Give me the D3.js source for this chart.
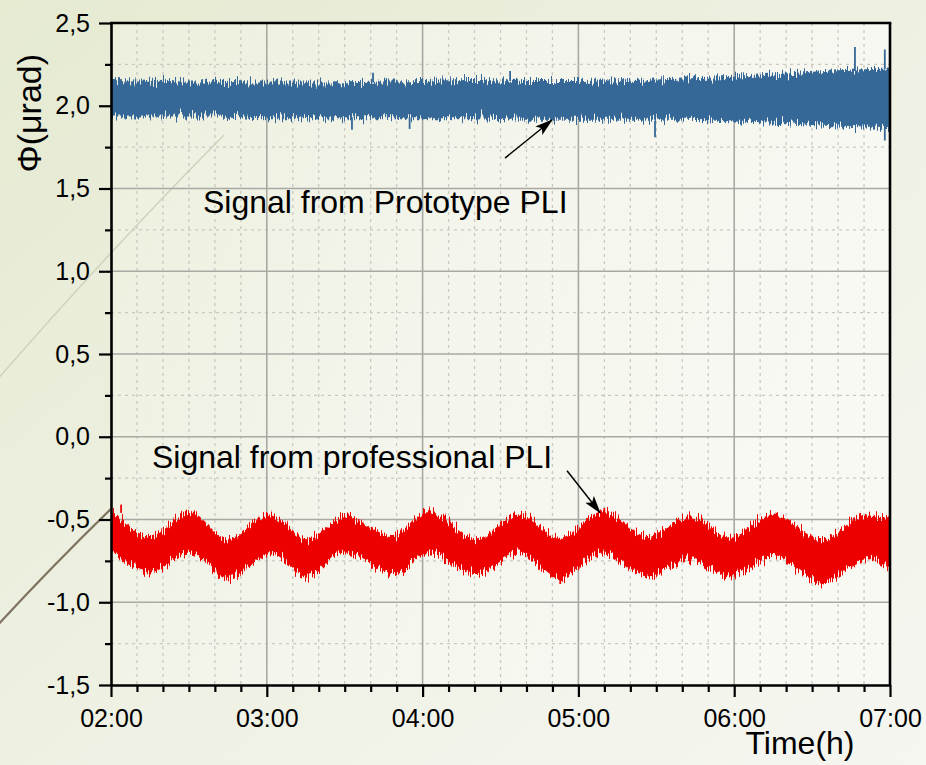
<!DOCTYPE html>
<html>
<head>
<meta charset="utf-8">
<script src="https://cdn.jsdelivr.net/npm/d3@7"></script>
<style>
  html, body { margin: 0; padding: 0; }
  body { width: 926px; height: 765px; overflow: hidden; }
  svg text { font-family: "Liberation Sans", Arial, sans-serif; fill: #000; }
</style>
</head>
<body>
<svg id="chart" width="926" height="765"></svg>
<script>
// time is in minutes after 02:00, values in µrad
const blueTime = [0, 20, 40, 60, 80, 100, 120, 140, 160, 180, 200, 220, 240, 260, 280, 300];
const blueTop = [2.155, 2.15, 2.145, 2.14, 2.14, 2.145, 2.15, 2.155, 2.15, 2.15, 2.155, 2.165, 2.175, 2.195, 2.215, 2.225];
const blueBottom = [1.935, 1.935, 1.935, 1.925, 1.925, 1.925, 1.925, 1.925, 1.915, 1.915, 1.915, 1.915, 1.905, 1.895, 1.875, 1.865];

const redTime = [0, 15.0, 30.4, 44.7, 61.2, 75.5, 90.1, 108.6, 122.1, 141.0, 157.1, 172.9, 189.5, 206.4, 223.0, 238.4, 254.9, 273.8, 291.1, 300];
const redTop = [-0.44, -0.60, -0.46, -0.62, -0.47, -0.62, -0.48, -0.60, -0.45, -0.62, -0.47, -0.61, -0.45, -0.60, -0.48, -0.61, -0.47, -0.62, -0.47, -0.49];
const redBottom = [-0.69, -0.82, -0.70, -0.85, -0.71, -0.84, -0.70, -0.83, -0.71, -0.83, -0.70, -0.86, -0.70, -0.85, -0.74, -0.85, -0.72, -0.88, -0.74, -0.81];

// isolated outliers: [time, base, tip]
const blueSpikes = [[286.5, 2.21, 2.355], [298, 2.22, 2.34], [209.5, 1.91, 1.81], [298, 1.87, 1.79], [92.8, 1.93, 1.855], [115, 1.93, 1.86], [100.9, 2.14, 2.20], [153.7, 2.15, 2.21]];
const redSpikes = [[3.9, -0.46, -0.41], [173, -0.84, -0.89], [274, -0.86, -0.89], [190, -0.47, -0.43]];

const xTickValues = [2, 3, 4, 5, 6, 7];
const xTickLabels = ['02:00', '03:00', '04:00', '05:00', '06:00', '07:00'];
const yTickValues = [-1.5, -1.0, -0.5, 0.0, 0.5, 1.0, 1.5, 2.0, 2.5];

const width = 926;
const height = 765;
const margin = { left: 111, right: 36, top: 23, bottom: 80 };

const svg = d3.select('#chart');
const x = d3.scaleLinear().domain([2, 7]).range([margin.left, width - margin.right]);
const y = d3.scaleLinear().domain([-1.5, 2.5]).range([height - margin.bottom, margin.top]);
const hours = (t) => 2 + t / 60;

const locale = d3.formatLocale({ decimal: ',', thousands: '.', grouping: [3], currency: ['', ''], minus: '-' });
const fmt = locale.format('.1f');

const defs = svg.append('defs');

const bgGrad = defs.append('linearGradient').attr('id', 'bg')
  .attr('x1', '0').attr('y1', '0').attr('x2', '1').attr('y2', '1');
bgGrad.append('stop').attr('offset', '0%').attr('stop-color', '#e5ead1');
bgGrad.append('stop').attr('offset', '55%').attr('stop-color', '#eff1e4');
bgGrad.append('stop').attr('offset', '100%').attr('stop-color', '#f6f6f1');

const plotGrad = defs.append('linearGradient').attr('id', 'plotbg')
  .attr('x1', '0').attr('y1', '0').attr('x2', '1').attr('y2', '0.4');
plotGrad.append('stop').attr('offset', '0%').attr('stop-color', '#ecefdc');
plotGrad.append('stop').attr('offset', '45%').attr('stop-color', '#f3f4ea');
plotGrad.append('stop').attr('offset', '100%').attr('stop-color', '#f9f9f4');

defs.append('clipPath').attr('id', 'plotclip')
  .append('rect')
  .attr('x', x(2)).attr('y', y(2.5))
  .attr('width', x(7) - x(2)).attr('height', y(-1.5) - y(2.5));

// edge roughening so the bands look like dense noisy traces
const jag = defs.append('filter').attr('id', 'jag')
  .attr('x', '0').attr('y', '-80%').attr('width', '100%').attr('height', '260%')
  .attr('color-interpolation-filters', 'sRGB');
jag.append('feTurbulence').attr('type', 'fractalNoise')
  .attr('baseFrequency', '0.85 0.015').attr('numOctaves', 2).attr('seed', 7).attr('result', 'n');
jag.append('feColorMatrix').attr('in', 'n').attr('type', 'matrix')
  .attr('values', '0 0 0 0 0.5  0 1 0 0 0  0 0 0 0 0  0 0 0 0 1').attr('result', 'm');
jag.append('feDisplacementMap').attr('in', 'SourceGraphic').attr('in2', 'm')
  .attr('scale', 22).attr('xChannelSelector', 'R').attr('yChannelSelector', 'G');

const marker = defs.append('marker').attr('id', 'arrowhead')
  .attr('viewBox', '0 -6 18 12').attr('refX', 17).attr('refY', 0)
  .attr('markerWidth', 18).attr('markerHeight', 12)
  .attr('markerUnits', 'userSpaceOnUse').attr('orient', 'auto');
marker.append('path').attr('d', 'M0,-5.5L18,0L0,5.5L4,0Z').attr('fill', '#000');

// page background and decorative slide swooshes
svg.append('rect').attr('width', width).attr('height', height).attr('fill', 'url(#bg)');
svg.append('path')
  .attr('d', 'M-4,627 Q52,566 118,502')
  .attr('fill', 'none').attr('stroke', '#7d735f').attr('stroke-width', 2.2);

svg.append('rect')
  .attr('x', x(2)).attr('y', y(2.5))
  .attr('width', x(7) - x(2)).attr('height', y(-1.5) - y(2.5))
  .attr('fill', 'url(#plotbg)');

svg.append('path')
  .attr('d', 'M-4,381 Q110,250 224,135')
  .attr('fill', 'none').attr('stroke', '#cfcdb8').attr('stroke-width', 1.5).attr('opacity', 0.9);

// grid
const grid = svg.append('g');
const minorX = d3.range(0, 31).map((i) => 2 + i / 6).filter((v, i) => i % 6 !== 0);
const minorY = d3.range(0, 17).map((i) => -1.5 + i * 0.25).filter((v, i) => i % 2 !== 0);

grid.selectAll('.mx').data(minorX).join('line')
  .attr('x1', (d) => x(d)).attr('x2', (d) => x(d))
  .attr('y1', y(2.5)).attr('y2', y(-1.5))
  .attr('stroke', '#c9c9c2').attr('stroke-width', 1.3).attr('stroke-dasharray', '3,4');
grid.selectAll('.my').data(minorY).join('line')
  .attr('x1', x(2)).attr('x2', x(7))
  .attr('y1', (d) => y(d)).attr('y2', (d) => y(d))
  .attr('stroke', '#c9c9c2').attr('stroke-width', 1.3).attr('stroke-dasharray', '3,4');
grid.selectAll('.gx').data(xTickValues.slice(1, -1)).join('line')
  .attr('x1', (d) => x(d)).attr('x2', (d) => x(d))
  .attr('y1', y(2.5)).attr('y2', y(-1.5))
  .attr('stroke', '#a9a9a4').attr('stroke-width', 1.6);
grid.selectAll('.gy').data(yTickValues.slice(1, -1)).join('line')
  .attr('x1', x(2)).attr('x2', x(7))
  .attr('y1', (d) => y(d)).attr('y2', (d) => y(d))
  .attr('stroke', '#a9a9a4').attr('stroke-width', 1.6);

// signal bands
const plot = svg.append('g').attr('clip-path', 'url(#plotclip)');

const band = d3.area()
  .x((d) => x(hours(d.t)))
  .y0((d) => y(d.lo))
  .y1((d) => y(d.hi))
  .curve(d3.curveMonotoneX);

const blueData = blueTime.map((t, i) => ({ t, hi: blueTop[i], lo: blueBottom[i] }));
const redData = redTime.map((t, i) => ({ t, hi: redTop[i], lo: redBottom[i] }));

plot.append('g').attr('filter', 'url(#jag)')
  .append('path').datum(blueData)
  .attr('d', band)
  .attr('fill', '#356797');

plot.append('g').attr('filter', 'url(#jag)')
  .append('path').datum(redData)
  .attr('d', band)
  .attr('fill', '#ee0000');

plot.selectAll('.bs').data(blueSpikes).join('line')
  .attr('x1', (d) => x(hours(d[0]))).attr('x2', (d) => x(hours(d[0])))
  .attr('y1', (d) => y(d[1])).attr('y2', (d) => y(d[2]))
  .attr('stroke', '#356797').attr('stroke-width', 1.8);
plot.selectAll('.rs').data(redSpikes).join('line')
  .attr('x1', (d) => x(hours(d[0]))).attr('x2', (d) => x(hours(d[0])))
  .attr('y1', (d) => y(d[1])).attr('y2', (d) => y(d[2]))
  .attr('stroke', '#ee0000').attr('stroke-width', 1.8);

// axes
const xAxis = svg.append('g')
  .attr('transform', `translate(0,${y(-1.5)})`)
  .call(d3.axisBottom(x).tickValues(xTickValues)
    .tickFormat((d, i) => xTickLabels[i]).tickSize(12).tickSizeOuter(0).tickPadding(12));
svg.append('g')
  .attr('transform', `translate(0,${y(-1.5)})`)
  .call(d3.axisBottom(x).tickValues(minorX).tickFormat('').tickSize(7).tickSizeOuter(0))
  .call((g) => g.select('.domain').remove());

const yAxis = svg.append('g')
  .attr('transform', `translate(${x(2)},0)`)
  .call(d3.axisLeft(y).tickValues(yTickValues).tickFormat(fmt).tickSize(12).tickSizeOuter(0).tickPadding(9));
svg.append('g')
  .attr('transform', `translate(${x(2)},0)`)
  .call(d3.axisLeft(y).tickValues(minorY).tickFormat('').tickSize(6).tickSizeOuter(0))
  .call((g) => g.select('.domain').remove());

svg.selectAll('.tick line').attr('stroke', '#000').attr('stroke-width', 2.2);
svg.selectAll('.domain').attr('stroke', '#000').attr('stroke-width', 2.6);
xAxis.selectAll('text').attr('font-size', 25).attr('fill', '#000');
yAxis.selectAll('text').attr('font-size', 25).attr('fill', '#000');

svg.append('line')
  .attr('x1', x(2) - 1).attr('x2', x(7) + 1.3)
  .attr('y1', y(2.5)).attr('y2', y(2.5))
  .attr('stroke', '#000').attr('stroke-width', 2.6);
svg.append('line')
  .attr('x1', x(7)).attr('x2', x(7))
  .attr('y1', y(2.5)).attr('y2', y(-1.5))
  .attr('stroke', '#000').attr('stroke-width', 2.6);

// titles
svg.append('text')
  .attr('transform', `translate(41,${y(1.955)}) rotate(-90)`)
  .attr('text-anchor', 'middle')
  .attr('font-size', 34)
  .text('Φ(μrad)');
svg.append('text')
  .attr('x', 800).attr('y', 754)
  .attr('text-anchor', 'middle')
  .attr('font-size', 32)
  .text('Time(h)');

// annotations
svg.append('text')
  .attr('x', x(2.59)).attr('y', y(1.352))
  .attr('font-size', 32)
  .text('Signal from Prototype PLI');
svg.append('text')
  .attr('x', x(2.263)).attr('y', y(-0.187))
  .attr('font-size', 32)
  .text('Signal from professional PLI');

svg.append('line')
  .attr('x1', x(4.529)).attr('y1', y(1.684))
  .attr('x2', x(4.831)).attr('y2', y(1.914))
  .attr('stroke', '#000').attr('stroke-width', 1.5)
  .attr('marker-end', 'url(#arrowhead)');
svg.append('line')
  .attr('x1', x(4.927)).attr('y1', y(-0.205))
  .attr('x2', x(5.139)).attr('y2', y(-0.459))
  .attr('stroke', '#000').attr('stroke-width', 1.5)
  .attr('marker-end', 'url(#arrowhead)');
</script>
</body>
</html>
